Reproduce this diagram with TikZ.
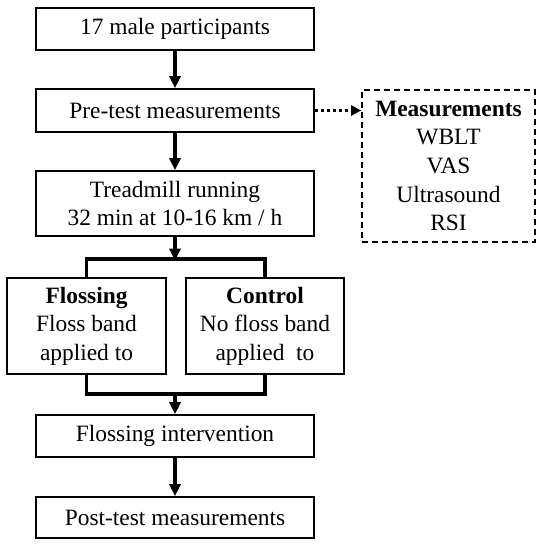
\documentclass[tikz,border=0pt]{standalone}
\usepackage{fontspec}
\setmainfont{Liberation Serif}
\usetikzlibrary{arrows.meta}
\tikzset{
  stepbox/.style={draw=black, line width=1.6bp, rectangle, align=center, inner sep=0pt,
    font=\fontsize{23.5}{28.7}\selectfont, text=black},
  mainbox/.style={stepbox, minimum width=278bp},
  conn/.style={draw=black, line width=3.2bp, line join=miter},
  arr/.style={conn, -{Triangle[length=12bp,width=11bp]}},
  dotarr/.style={draw=black, line width=3bp, dash pattern=on 3bp off 3bp, -{Triangle[length=10bp,width=10bp]}},
  dashbox/.style={stepbox, dash pattern=on 6bp off 4bp}
}
\begin{document}
\begin{tikzpicture}[x=1bp,y=-1bp]
\useasboundingbox (0,0) rectangle (543,546);
\node[mainbox, minimum height=42.5bp] (b1) at (175,29) {17 male participants};
\node[mainbox, minimum height=43bp] (b2) at (175,110.5) {Pre-test measurements};
\node[mainbox, minimum height=65bp] (b3) at (175,203.5) {Treadmill running\\32 min at 10-16 km / h};
\node[dashbox, minimum width=173bp, minimum height=152bp] (meas) at (448.5,166)
  {\textbf{Measurements}\\WBLT\\VAS\\Ultrasound\\RSI};
\node[stepbox, minimum width=159bp, minimum height=96bp] (floss) at (86.5,326)
  {\textbf{Flossing}\\Floss band\\applied to};
\node[stepbox, minimum width=158bp, minimum height=96bp] (ctrl) at (265,326)
  {\textbf{Control}\\No floss band\\applied\ \ to};
\node[mainbox, minimum height=42bp] (b4) at (175,436) {Flossing intervention};
\node[mainbox, minimum height=41bp] (b5) at (175,517.5) {Post-test measurements};
\coordinate (split) at (175,259);
\coordinate (merge) at (175,394);
\draw[arr] (b1.south) -- (b2.north);
\draw[arr] (b2.south) -- (b3.north);
\draw[arr] (b3.south) -- ([yshift=-1.6bp]split);
\draw[conn] (floss.north) |- (split) -| (ctrl.north);
\draw[conn] (floss.south) |- (merge) -| (ctrl.south);
\draw[arr] (merge) -- (b4.north);
\draw[arr] (b4.south) -- (b5.north);
\draw[dotarr] (b2.east) -- (b2.east -| meas.west);
\end{tikzpicture}
\end{document}
